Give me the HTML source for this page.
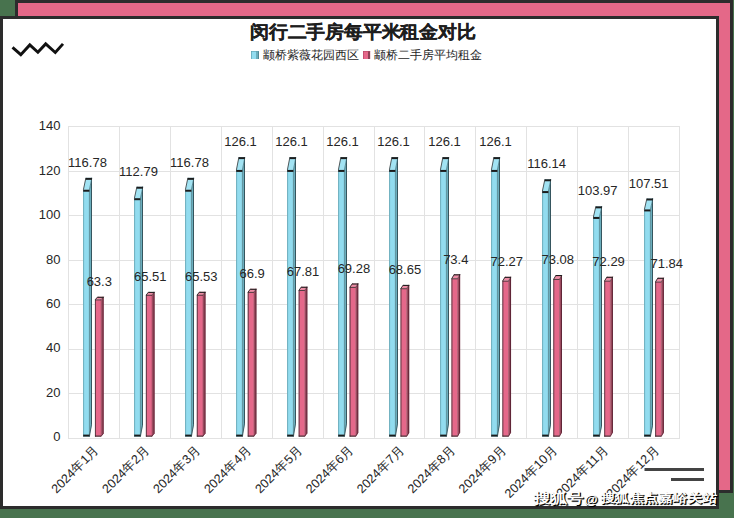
<!DOCTYPE html>
<html><head><meta charset="utf-8">
<style>
html,body{margin:0;padding:0;}
body{width:734px;height:518px;overflow:hidden;background:#48734e;position:relative;font-family:"Liberation Sans",sans-serif;}
.pink{position:absolute;left:15px;top:0px;width:718px;height:493px;box-sizing:border-box;background:#e46888;border:3px solid #2c2c2c;}
.panel{position:absolute;left:0px;top:16px;width:719px;height:493px;box-sizing:border-box;background:#fff;border:3px solid #2c2c2c;}
svg{position:absolute;left:0;top:0;}
.ax text{font-family:"Liberation Sans",sans-serif;font-size:13px;fill:#262626;}
.title{position:absolute;left:250px;top:20px;font-size:18.7px;font-weight:bold;color:#1e1e1e;white-space:nowrap;letter-spacing:-0.2px;-webkit-text-stroke:0.25px #1e1e1e;transform:scaleY(0.95);transform-origin:0 0;}
.legend{position:absolute;left:251px;top:46px;font-size:12px;color:#333;white-space:nowrap;}
.wm{position:absolute;font-weight:bold;color:#fff;white-space:nowrap;text-shadow:1px 1px 0 #000,1px 1px 1px #000;transform-origin:0 0;}
</style></head><body>
<div class="pink"></div>
<div class="panel"></div>
<div class="title">闵行二手房每平米租金对比</div>
<svg width="734" height="518" viewBox="0 0 734 518">
<polyline points="12.5,47.4 20.8,54.7 29.8,44.9 37.9,52.3 45.7,43.9 55.3,52.5 63,43.9" fill="none" stroke="#111" stroke-width="2.9"/>
<g>
<rect x="251" y="51" width="8" height="8" fill="#92dcef"/><rect x="251" y="51" width="1" height="8" fill="#6fb3c4"/><rect x="256" y="51" width="3" height="8" fill="#6aaebd"/><rect x="258.2" y="51" width="0.8" height="8" fill="#4d7f8a"/><rect x="251" y="51" width="8" height="0.6" fill="#5f9fae"/>
<rect x="363" y="51" width="7.1" height="8" fill="#e5688a"/><rect x="363" y="51" width="1" height="8" fill="#c85072"/><rect x="368" y="51" width="2.1" height="8" fill="#8e4156"/><rect x="363" y="51" width="7.1" height="0.6" fill="#b24a66"/>
</g>
<text x="262.5" y="59" font-family="Liberation Sans, sans-serif" font-size="12" fill="#262626">颛桥紫薇花园西区</text>
<text x="374" y="59" font-family="Liberation Sans, sans-serif" font-size="12" fill="#262626">颛桥二手房平均租金</text>
<g stroke="#e2e2e2" stroke-width="1" fill="none"><line x1="68" y1="438.5" x2="680" y2="438.5"/><line x1="68" y1="393.5" x2="680" y2="393.5"/><line x1="68" y1="349.5" x2="680" y2="349.5"/><line x1="68" y1="304.5" x2="680" y2="304.5"/><line x1="68" y1="260.5" x2="680" y2="260.5"/><line x1="68" y1="215.5" x2="680" y2="215.5"/><line x1="68" y1="171.5" x2="680" y2="171.5"/><line x1="68" y1="126.5" x2="680" y2="126.5"/><line x1="68.5" y1="126.5" x2="68.5" y2="438.5"/><line x1="119.5" y1="126.5" x2="119.5" y2="438.5"/><line x1="170.5" y1="126.5" x2="170.5" y2="438.5"/><line x1="221.5" y1="126.5" x2="221.5" y2="438.5"/><line x1="272.5" y1="126.5" x2="272.5" y2="438.5"/><line x1="323.5" y1="126.5" x2="323.5" y2="438.5"/><line x1="374.5" y1="126.5" x2="374.5" y2="438.5"/><line x1="424.5" y1="126.5" x2="424.5" y2="438.5"/><line x1="475.5" y1="126.5" x2="475.5" y2="438.5"/><line x1="526.5" y1="126.5" x2="526.5" y2="438.5"/><line x1="577.5" y1="126.5" x2="577.5" y2="438.5"/><line x1="628.5" y1="126.5" x2="628.5" y2="438.5"/><line x1="679.5" y1="126.5" x2="679.5" y2="438.5"/></g>
<g class="ax"><text x="60.5" y="441.4" text-anchor="end">0</text><text x="60.5" y="396.9" text-anchor="end">20</text><text x="60.5" y="352.4" text-anchor="end">40</text><text x="60.5" y="307.9" text-anchor="end">60</text><text x="60.5" y="263.5" text-anchor="end">80</text><text x="60.5" y="219.0" text-anchor="end">100</text><text x="60.5" y="174.5" text-anchor="end">120</text><text x="60.5" y="130.0" text-anchor="end">140</text></g>
<polygon points="89.40,189.72 91.90,177.85 91.90,424.73 89.40,436.60" fill="#6aaebd"/><rect x="83.20" y="189.72" width="6.20" height="246.88" fill="#92dcef"/><polygon points="83.20,189.72 89.40,189.72 91.90,177.85 85.70,177.85" fill="#a2e3f3"/><line x1="83.60" y1="189.72" x2="83.60" y2="436.60" stroke="#5f9fae" stroke-width="0.8"/><line x1="89.40" y1="189.72" x2="89.40" y2="436.60" stroke="#4d7f8a" stroke-width="0.8"/><line x1="91.50" y1="177.85" x2="91.50" y2="424.73" stroke="#2e4a52" stroke-width="0.9"/><line x1="89.40" y1="436.60" x2="91.50" y2="424.73" stroke="#2e4a52" stroke-width="0.8"/><line x1="83.40" y1="189.72" x2="85.90" y2="177.85" stroke="#333" stroke-width="0.8"/><line x1="89.40" y1="189.72" x2="91.90" y2="177.85" stroke="#3d6a75" stroke-width="0.7"/><rect x="85.70" y="177.85" width="6.20" height="2.0" fill="#1c1c1c"/><rect x="83.20" y="189.72" width="6.20" height="2.0" fill="#1c1c1c"/><rect x="83.20" y="434.60" width="6.20" height="2.0" fill="#1c1c1c"/><polygon points="101.10,299.60 103.60,296.80 103.60,433.80 101.10,436.60" fill="#9e4b60"/><rect x="95.00" y="299.60" width="6.10" height="137.00" fill="#e5688a"/><polygon points="95.00,299.60 101.10,299.60 103.60,296.80 97.50,296.80" fill="#ee8ca5"/><line x1="95.40" y1="299.60" x2="95.40" y2="436.60" stroke="#3a2a30" stroke-width="0.8"/><line x1="101.10" y1="299.60" x2="101.10" y2="436.60" stroke="#8a4055" stroke-width="0.5"/><line x1="103.10" y1="296.80" x2="103.10" y2="433.80" stroke="#5e2536" stroke-width="1.0"/><line x1="101.10" y1="436.20" x2="103.10" y2="433.80" stroke="#5e2536" stroke-width="0.8"/><line x1="95.30" y1="299.60" x2="97.80" y2="296.80" stroke="#2a2a2a" stroke-width="0.9"/><line x1="97.50" y1="297.30" x2="103.60" y2="297.30" stroke="#1c1c1c" stroke-width="1.1"/><line x1="95.00" y1="299.90" x2="101.10" y2="299.90" stroke="#2a2a2a" stroke-width="0.8"/><line x1="101.10" y1="299.60" x2="103.60" y2="296.80" stroke="#2a2a2a" stroke-width="0.6"/><line x1="95.00" y1="436.10" x2="101.10" y2="436.10" stroke="#2a2a2a" stroke-width="1.0"/><polygon points="140.40,198.20 142.90,186.72 142.90,425.12 140.40,436.60" fill="#6aaebd"/><rect x="134.20" y="198.20" width="6.20" height="238.40" fill="#92dcef"/><polygon points="134.20,198.20 140.40,198.20 142.90,186.72 136.70,186.72" fill="#a2e3f3"/><line x1="134.60" y1="198.20" x2="134.60" y2="436.60" stroke="#5f9fae" stroke-width="0.8"/><line x1="140.40" y1="198.20" x2="140.40" y2="436.60" stroke="#4d7f8a" stroke-width="0.8"/><line x1="142.50" y1="186.72" x2="142.50" y2="425.12" stroke="#2e4a52" stroke-width="0.9"/><line x1="140.40" y1="436.60" x2="142.50" y2="425.12" stroke="#2e4a52" stroke-width="0.8"/><line x1="134.40" y1="198.20" x2="136.90" y2="186.72" stroke="#333" stroke-width="0.8"/><line x1="140.40" y1="198.20" x2="142.90" y2="186.72" stroke="#3d6a75" stroke-width="0.7"/><rect x="136.70" y="186.72" width="6.20" height="2.0" fill="#1c1c1c"/><rect x="134.20" y="198.20" width="6.20" height="2.0" fill="#1c1c1c"/><rect x="134.20" y="434.60" width="6.20" height="2.0" fill="#1c1c1c"/><polygon points="152.03,294.98 154.53,291.89 154.53,433.50 152.03,436.60" fill="#9e4b60"/><rect x="145.93" y="294.98" width="6.10" height="141.62" fill="#e5688a"/><polygon points="145.93,294.98 152.03,294.98 154.53,291.89 148.43,291.89" fill="#ee8ca5"/><line x1="146.33" y1="294.98" x2="146.33" y2="436.60" stroke="#3a2a30" stroke-width="0.8"/><line x1="152.03" y1="294.98" x2="152.03" y2="436.60" stroke="#8a4055" stroke-width="0.5"/><line x1="154.03" y1="291.89" x2="154.03" y2="433.50" stroke="#5e2536" stroke-width="1.0"/><line x1="152.03" y1="436.20" x2="154.03" y2="433.50" stroke="#5e2536" stroke-width="0.8"/><line x1="146.23" y1="294.98" x2="148.73" y2="291.89" stroke="#2a2a2a" stroke-width="0.9"/><line x1="148.43" y1="292.39" x2="154.53" y2="292.39" stroke="#1c1c1c" stroke-width="1.1"/><line x1="145.93" y1="295.28" x2="152.03" y2="295.28" stroke="#2a2a2a" stroke-width="0.8"/><line x1="152.03" y1="294.98" x2="154.53" y2="291.89" stroke="#2a2a2a" stroke-width="0.6"/><line x1="145.93" y1="436.10" x2="152.03" y2="436.10" stroke="#2a2a2a" stroke-width="1.0"/><polygon points="191.40,189.72 193.90,177.85 193.90,424.73 191.40,436.60" fill="#6aaebd"/><rect x="185.20" y="189.72" width="6.20" height="246.88" fill="#92dcef"/><polygon points="185.20,189.72 191.40,189.72 193.90,177.85 187.70,177.85" fill="#a2e3f3"/><line x1="185.60" y1="189.72" x2="185.60" y2="436.60" stroke="#5f9fae" stroke-width="0.8"/><line x1="191.40" y1="189.72" x2="191.40" y2="436.60" stroke="#4d7f8a" stroke-width="0.8"/><line x1="193.50" y1="177.85" x2="193.50" y2="424.73" stroke="#2e4a52" stroke-width="0.9"/><line x1="191.40" y1="436.60" x2="193.50" y2="424.73" stroke="#2e4a52" stroke-width="0.8"/><line x1="185.40" y1="189.72" x2="187.90" y2="177.85" stroke="#333" stroke-width="0.8"/><line x1="191.40" y1="189.72" x2="193.90" y2="177.85" stroke="#3d6a75" stroke-width="0.7"/><rect x="187.70" y="177.85" width="6.20" height="2.0" fill="#1c1c1c"/><rect x="185.20" y="189.72" width="6.20" height="2.0" fill="#1c1c1c"/><rect x="185.20" y="434.60" width="6.20" height="2.0" fill="#1c1c1c"/><polygon points="202.96,294.94 205.46,291.84 205.46,433.50 202.96,436.60" fill="#9e4b60"/><rect x="196.86" y="294.94" width="6.10" height="141.66" fill="#e5688a"/><polygon points="196.86,294.94 202.96,294.94 205.46,291.84 199.36,291.84" fill="#ee8ca5"/><line x1="197.26" y1="294.94" x2="197.26" y2="436.60" stroke="#3a2a30" stroke-width="0.8"/><line x1="202.96" y1="294.94" x2="202.96" y2="436.60" stroke="#8a4055" stroke-width="0.5"/><line x1="204.96" y1="291.84" x2="204.96" y2="433.50" stroke="#5e2536" stroke-width="1.0"/><line x1="202.96" y1="436.20" x2="204.96" y2="433.50" stroke="#5e2536" stroke-width="0.8"/><line x1="197.16" y1="294.94" x2="199.66" y2="291.84" stroke="#2a2a2a" stroke-width="0.9"/><line x1="199.36" y1="292.34" x2="205.46" y2="292.34" stroke="#1c1c1c" stroke-width="1.1"/><line x1="196.86" y1="295.24" x2="202.96" y2="295.24" stroke="#2a2a2a" stroke-width="0.8"/><line x1="202.96" y1="294.94" x2="205.46" y2="291.84" stroke="#2a2a2a" stroke-width="0.6"/><line x1="196.86" y1="436.10" x2="202.96" y2="436.10" stroke="#2a2a2a" stroke-width="1.0"/><polygon points="242.40,169.92 244.90,157.12 244.90,423.80 242.40,436.60" fill="#6aaebd"/><rect x="236.20" y="169.92" width="6.20" height="266.68" fill="#92dcef"/><polygon points="236.20,169.92 242.40,169.92 244.90,157.12 238.70,157.12" fill="#a2e3f3"/><line x1="236.60" y1="169.92" x2="236.60" y2="436.60" stroke="#5f9fae" stroke-width="0.8"/><line x1="242.40" y1="169.92" x2="242.40" y2="436.60" stroke="#4d7f8a" stroke-width="0.8"/><line x1="244.50" y1="157.12" x2="244.50" y2="423.80" stroke="#2e4a52" stroke-width="0.9"/><line x1="242.40" y1="436.60" x2="244.50" y2="423.80" stroke="#2e4a52" stroke-width="0.8"/><line x1="236.40" y1="169.92" x2="238.90" y2="157.12" stroke="#333" stroke-width="0.8"/><line x1="242.40" y1="169.92" x2="244.90" y2="157.12" stroke="#3d6a75" stroke-width="0.7"/><rect x="238.70" y="157.12" width="6.20" height="2.0" fill="#1c1c1c"/><rect x="236.20" y="169.92" width="6.20" height="2.0" fill="#1c1c1c"/><rect x="236.20" y="434.60" width="6.20" height="2.0" fill="#1c1c1c"/><polygon points="253.89,292.08 256.39,288.80 256.39,433.32 253.89,436.60" fill="#9e4b60"/><rect x="247.79" y="292.08" width="6.10" height="144.52" fill="#e5688a"/><polygon points="247.79,292.08 253.89,292.08 256.39,288.80 250.29,288.80" fill="#ee8ca5"/><line x1="248.19" y1="292.08" x2="248.19" y2="436.60" stroke="#3a2a30" stroke-width="0.8"/><line x1="253.89" y1="292.08" x2="253.89" y2="436.60" stroke="#8a4055" stroke-width="0.5"/><line x1="255.89" y1="288.80" x2="255.89" y2="433.32" stroke="#5e2536" stroke-width="1.0"/><line x1="253.89" y1="436.20" x2="255.89" y2="433.32" stroke="#5e2536" stroke-width="0.8"/><line x1="248.09" y1="292.08" x2="250.59" y2="288.80" stroke="#2a2a2a" stroke-width="0.9"/><line x1="250.29" y1="289.30" x2="256.39" y2="289.30" stroke="#1c1c1c" stroke-width="1.1"/><line x1="247.79" y1="292.38" x2="253.89" y2="292.38" stroke="#2a2a2a" stroke-width="0.8"/><line x1="253.89" y1="292.08" x2="256.39" y2="288.80" stroke="#2a2a2a" stroke-width="0.6"/><line x1="247.79" y1="436.10" x2="253.89" y2="436.10" stroke="#2a2a2a" stroke-width="1.0"/><polygon points="293.40,169.92 295.90,157.12 295.90,423.80 293.40,436.60" fill="#6aaebd"/><rect x="287.20" y="169.92" width="6.20" height="266.68" fill="#92dcef"/><polygon points="287.20,169.92 293.40,169.92 295.90,157.12 289.70,157.12" fill="#a2e3f3"/><line x1="287.60" y1="169.92" x2="287.60" y2="436.60" stroke="#5f9fae" stroke-width="0.8"/><line x1="293.40" y1="169.92" x2="293.40" y2="436.60" stroke="#4d7f8a" stroke-width="0.8"/><line x1="295.50" y1="157.12" x2="295.50" y2="423.80" stroke="#2e4a52" stroke-width="0.9"/><line x1="293.40" y1="436.60" x2="295.50" y2="423.80" stroke="#2e4a52" stroke-width="0.8"/><line x1="287.40" y1="169.92" x2="289.90" y2="157.12" stroke="#333" stroke-width="0.8"/><line x1="293.40" y1="169.92" x2="295.90" y2="157.12" stroke="#3d6a75" stroke-width="0.7"/><rect x="289.70" y="157.12" width="6.20" height="2.0" fill="#1c1c1c"/><rect x="287.20" y="169.92" width="6.20" height="2.0" fill="#1c1c1c"/><rect x="287.20" y="434.60" width="6.20" height="2.0" fill="#1c1c1c"/><polygon points="304.82,290.18 307.32,286.77 307.32,433.20 304.82,436.60" fill="#9e4b60"/><rect x="298.72" y="290.18" width="6.10" height="146.42" fill="#e5688a"/><polygon points="298.72,290.18 304.82,290.18 307.32,286.77 301.22,286.77" fill="#ee8ca5"/><line x1="299.12" y1="290.18" x2="299.12" y2="436.60" stroke="#3a2a30" stroke-width="0.8"/><line x1="304.82" y1="290.18" x2="304.82" y2="436.60" stroke="#8a4055" stroke-width="0.5"/><line x1="306.82" y1="286.77" x2="306.82" y2="433.20" stroke="#5e2536" stroke-width="1.0"/><line x1="304.82" y1="436.20" x2="306.82" y2="433.20" stroke="#5e2536" stroke-width="0.8"/><line x1="299.02" y1="290.18" x2="301.52" y2="286.77" stroke="#2a2a2a" stroke-width="0.9"/><line x1="301.22" y1="287.27" x2="307.32" y2="287.27" stroke="#1c1c1c" stroke-width="1.1"/><line x1="298.72" y1="290.48" x2="304.82" y2="290.48" stroke="#2a2a2a" stroke-width="0.8"/><line x1="304.82" y1="290.18" x2="307.32" y2="286.77" stroke="#2a2a2a" stroke-width="0.6"/><line x1="298.72" y1="436.10" x2="304.82" y2="436.10" stroke="#2a2a2a" stroke-width="1.0"/><polygon points="344.40,169.92 346.90,157.12 346.90,423.80 344.40,436.60" fill="#6aaebd"/><rect x="338.20" y="169.92" width="6.20" height="266.68" fill="#92dcef"/><polygon points="338.20,169.92 344.40,169.92 346.90,157.12 340.70,157.12" fill="#a2e3f3"/><line x1="338.60" y1="169.92" x2="338.60" y2="436.60" stroke="#5f9fae" stroke-width="0.8"/><line x1="344.40" y1="169.92" x2="344.40" y2="436.60" stroke="#4d7f8a" stroke-width="0.8"/><line x1="346.50" y1="157.12" x2="346.50" y2="423.80" stroke="#2e4a52" stroke-width="0.9"/><line x1="344.40" y1="436.60" x2="346.50" y2="423.80" stroke="#2e4a52" stroke-width="0.8"/><line x1="338.40" y1="169.92" x2="340.90" y2="157.12" stroke="#333" stroke-width="0.8"/><line x1="344.40" y1="169.92" x2="346.90" y2="157.12" stroke="#3d6a75" stroke-width="0.7"/><rect x="340.70" y="157.12" width="6.20" height="2.0" fill="#1c1c1c"/><rect x="338.20" y="169.92" width="6.20" height="2.0" fill="#1c1c1c"/><rect x="338.20" y="434.60" width="6.20" height="2.0" fill="#1c1c1c"/><polygon points="355.75,287.10 358.25,283.50 358.25,433.00 355.75,436.60" fill="#9e4b60"/><rect x="349.65" y="287.10" width="6.10" height="149.50" fill="#e5688a"/><polygon points="349.65,287.10 355.75,287.10 358.25,283.50 352.15,283.50" fill="#ee8ca5"/><line x1="350.05" y1="287.10" x2="350.05" y2="436.60" stroke="#3a2a30" stroke-width="0.8"/><line x1="355.75" y1="287.10" x2="355.75" y2="436.60" stroke="#8a4055" stroke-width="0.5"/><line x1="357.75" y1="283.50" x2="357.75" y2="433.00" stroke="#5e2536" stroke-width="1.0"/><line x1="355.75" y1="436.20" x2="357.75" y2="433.00" stroke="#5e2536" stroke-width="0.8"/><line x1="349.95" y1="287.10" x2="352.45" y2="283.50" stroke="#2a2a2a" stroke-width="0.9"/><line x1="352.15" y1="284.00" x2="358.25" y2="284.00" stroke="#1c1c1c" stroke-width="1.1"/><line x1="349.65" y1="287.40" x2="355.75" y2="287.40" stroke="#2a2a2a" stroke-width="0.8"/><line x1="355.75" y1="287.10" x2="358.25" y2="283.50" stroke="#2a2a2a" stroke-width="0.6"/><line x1="349.65" y1="436.10" x2="355.75" y2="436.10" stroke="#2a2a2a" stroke-width="1.0"/><polygon points="395.40,169.92 397.90,157.12 397.90,423.80 395.40,436.60" fill="#6aaebd"/><rect x="389.20" y="169.92" width="6.20" height="266.68" fill="#92dcef"/><polygon points="389.20,169.92 395.40,169.92 397.90,157.12 391.70,157.12" fill="#a2e3f3"/><line x1="389.60" y1="169.92" x2="389.60" y2="436.60" stroke="#5f9fae" stroke-width="0.8"/><line x1="395.40" y1="169.92" x2="395.40" y2="436.60" stroke="#4d7f8a" stroke-width="0.8"/><line x1="397.50" y1="157.12" x2="397.50" y2="423.80" stroke="#2e4a52" stroke-width="0.9"/><line x1="395.40" y1="436.60" x2="397.50" y2="423.80" stroke="#2e4a52" stroke-width="0.8"/><line x1="389.40" y1="169.92" x2="391.90" y2="157.12" stroke="#333" stroke-width="0.8"/><line x1="395.40" y1="169.92" x2="397.90" y2="157.12" stroke="#3d6a75" stroke-width="0.7"/><rect x="391.70" y="157.12" width="6.20" height="2.0" fill="#1c1c1c"/><rect x="389.20" y="169.92" width="6.20" height="2.0" fill="#1c1c1c"/><rect x="389.20" y="434.60" width="6.20" height="2.0" fill="#1c1c1c"/><polygon points="406.68,288.42 409.18,284.90 409.18,433.08 406.68,436.60" fill="#9e4b60"/><rect x="400.58" y="288.42" width="6.10" height="148.18" fill="#e5688a"/><polygon points="400.58,288.42 406.68,288.42 409.18,284.90 403.08,284.90" fill="#ee8ca5"/><line x1="400.98" y1="288.42" x2="400.98" y2="436.60" stroke="#3a2a30" stroke-width="0.8"/><line x1="406.68" y1="288.42" x2="406.68" y2="436.60" stroke="#8a4055" stroke-width="0.5"/><line x1="408.68" y1="284.90" x2="408.68" y2="433.08" stroke="#5e2536" stroke-width="1.0"/><line x1="406.68" y1="436.20" x2="408.68" y2="433.08" stroke="#5e2536" stroke-width="0.8"/><line x1="400.88" y1="288.42" x2="403.38" y2="284.90" stroke="#2a2a2a" stroke-width="0.9"/><line x1="403.08" y1="285.40" x2="409.18" y2="285.40" stroke="#1c1c1c" stroke-width="1.1"/><line x1="400.58" y1="288.72" x2="406.68" y2="288.72" stroke="#2a2a2a" stroke-width="0.8"/><line x1="406.68" y1="288.42" x2="409.18" y2="284.90" stroke="#2a2a2a" stroke-width="0.6"/><line x1="400.58" y1="436.10" x2="406.68" y2="436.10" stroke="#2a2a2a" stroke-width="1.0"/><polygon points="446.40,169.92 448.90,157.12 448.90,423.80 446.40,436.60" fill="#6aaebd"/><rect x="440.20" y="169.92" width="6.20" height="266.68" fill="#92dcef"/><polygon points="440.20,169.92 446.40,169.92 448.90,157.12 442.70,157.12" fill="#a2e3f3"/><line x1="440.60" y1="169.92" x2="440.60" y2="436.60" stroke="#5f9fae" stroke-width="0.8"/><line x1="446.40" y1="169.92" x2="446.40" y2="436.60" stroke="#4d7f8a" stroke-width="0.8"/><line x1="448.50" y1="157.12" x2="448.50" y2="423.80" stroke="#2e4a52" stroke-width="0.9"/><line x1="446.40" y1="436.60" x2="448.50" y2="423.80" stroke="#2e4a52" stroke-width="0.8"/><line x1="440.40" y1="169.92" x2="442.90" y2="157.12" stroke="#333" stroke-width="0.8"/><line x1="446.40" y1="169.92" x2="448.90" y2="157.12" stroke="#3d6a75" stroke-width="0.7"/><rect x="442.70" y="157.12" width="6.20" height="2.0" fill="#1c1c1c"/><rect x="440.20" y="169.92" width="6.20" height="2.0" fill="#1c1c1c"/><rect x="440.20" y="434.60" width="6.20" height="2.0" fill="#1c1c1c"/><polygon points="457.61,278.49 460.11,274.34 460.11,432.45 457.61,436.60" fill="#9e4b60"/><rect x="451.51" y="278.49" width="6.10" height="158.11" fill="#e5688a"/><polygon points="451.51,278.49 457.61,278.49 460.11,274.34 454.01,274.34" fill="#ee8ca5"/><line x1="451.91" y1="278.49" x2="451.91" y2="436.60" stroke="#3a2a30" stroke-width="0.8"/><line x1="457.61" y1="278.49" x2="457.61" y2="436.60" stroke="#8a4055" stroke-width="0.5"/><line x1="459.61" y1="274.34" x2="459.61" y2="432.45" stroke="#5e2536" stroke-width="1.0"/><line x1="457.61" y1="436.20" x2="459.61" y2="432.45" stroke="#5e2536" stroke-width="0.8"/><line x1="451.81" y1="278.49" x2="454.31" y2="274.34" stroke="#2a2a2a" stroke-width="0.9"/><line x1="454.01" y1="274.84" x2="460.11" y2="274.84" stroke="#1c1c1c" stroke-width="1.1"/><line x1="451.51" y1="278.79" x2="457.61" y2="278.79" stroke="#2a2a2a" stroke-width="0.8"/><line x1="457.61" y1="278.49" x2="460.11" y2="274.34" stroke="#2a2a2a" stroke-width="0.6"/><line x1="451.51" y1="436.10" x2="457.61" y2="436.10" stroke="#2a2a2a" stroke-width="1.0"/><polygon points="497.40,169.92 499.90,157.12 499.90,423.80 497.40,436.60" fill="#6aaebd"/><rect x="491.20" y="169.92" width="6.20" height="266.68" fill="#92dcef"/><polygon points="491.20,169.92 497.40,169.92 499.90,157.12 493.70,157.12" fill="#a2e3f3"/><line x1="491.60" y1="169.92" x2="491.60" y2="436.60" stroke="#5f9fae" stroke-width="0.8"/><line x1="497.40" y1="169.92" x2="497.40" y2="436.60" stroke="#4d7f8a" stroke-width="0.8"/><line x1="499.50" y1="157.12" x2="499.50" y2="423.80" stroke="#2e4a52" stroke-width="0.9"/><line x1="497.40" y1="436.60" x2="499.50" y2="423.80" stroke="#2e4a52" stroke-width="0.8"/><line x1="491.40" y1="169.92" x2="493.90" y2="157.12" stroke="#333" stroke-width="0.8"/><line x1="497.40" y1="169.92" x2="499.90" y2="157.12" stroke="#3d6a75" stroke-width="0.7"/><rect x="493.70" y="157.12" width="6.20" height="2.0" fill="#1c1c1c"/><rect x="491.20" y="169.92" width="6.20" height="2.0" fill="#1c1c1c"/><rect x="491.20" y="434.60" width="6.20" height="2.0" fill="#1c1c1c"/><polygon points="508.54,280.85 511.04,276.85 511.04,432.60 508.54,436.60" fill="#9e4b60"/><rect x="502.44" y="280.85" width="6.10" height="155.75" fill="#e5688a"/><polygon points="502.44,280.85 508.54,280.85 511.04,276.85 504.94,276.85" fill="#ee8ca5"/><line x1="502.84" y1="280.85" x2="502.84" y2="436.60" stroke="#3a2a30" stroke-width="0.8"/><line x1="508.54" y1="280.85" x2="508.54" y2="436.60" stroke="#8a4055" stroke-width="0.5"/><line x1="510.54" y1="276.85" x2="510.54" y2="432.60" stroke="#5e2536" stroke-width="1.0"/><line x1="508.54" y1="436.20" x2="510.54" y2="432.60" stroke="#5e2536" stroke-width="0.8"/><line x1="502.74" y1="280.85" x2="505.24" y2="276.85" stroke="#2a2a2a" stroke-width="0.9"/><line x1="504.94" y1="277.35" x2="511.04" y2="277.35" stroke="#1c1c1c" stroke-width="1.1"/><line x1="502.44" y1="281.15" x2="508.54" y2="281.15" stroke="#2a2a2a" stroke-width="0.8"/><line x1="508.54" y1="280.85" x2="511.04" y2="276.85" stroke="#2a2a2a" stroke-width="0.6"/><line x1="502.44" y1="436.10" x2="508.54" y2="436.10" stroke="#2a2a2a" stroke-width="1.0"/><polygon points="548.40,191.08 550.90,179.27 550.90,424.79 548.40,436.60" fill="#6aaebd"/><rect x="542.20" y="191.08" width="6.20" height="245.52" fill="#92dcef"/><polygon points="542.20,191.08 548.40,191.08 550.90,179.27 544.70,179.27" fill="#a2e3f3"/><line x1="542.60" y1="191.08" x2="542.60" y2="436.60" stroke="#5f9fae" stroke-width="0.8"/><line x1="548.40" y1="191.08" x2="548.40" y2="436.60" stroke="#4d7f8a" stroke-width="0.8"/><line x1="550.50" y1="179.27" x2="550.50" y2="424.79" stroke="#2e4a52" stroke-width="0.9"/><line x1="548.40" y1="436.60" x2="550.50" y2="424.79" stroke="#2e4a52" stroke-width="0.8"/><line x1="542.40" y1="191.08" x2="544.90" y2="179.27" stroke="#333" stroke-width="0.8"/><line x1="548.40" y1="191.08" x2="550.90" y2="179.27" stroke="#3d6a75" stroke-width="0.7"/><rect x="544.70" y="179.27" width="6.20" height="2.0" fill="#1c1c1c"/><rect x="542.20" y="191.08" width="6.20" height="2.0" fill="#1c1c1c"/><rect x="542.20" y="434.60" width="6.20" height="2.0" fill="#1c1c1c"/><polygon points="559.47,279.16 561.97,275.05 561.97,432.49 559.47,436.60" fill="#9e4b60"/><rect x="553.37" y="279.16" width="6.10" height="157.44" fill="#e5688a"/><polygon points="553.37,279.16 559.47,279.16 561.97,275.05 555.87,275.05" fill="#ee8ca5"/><line x1="553.77" y1="279.16" x2="553.77" y2="436.60" stroke="#3a2a30" stroke-width="0.8"/><line x1="559.47" y1="279.16" x2="559.47" y2="436.60" stroke="#8a4055" stroke-width="0.5"/><line x1="561.47" y1="275.05" x2="561.47" y2="432.49" stroke="#5e2536" stroke-width="1.0"/><line x1="559.47" y1="436.20" x2="561.47" y2="432.49" stroke="#5e2536" stroke-width="0.8"/><line x1="553.67" y1="279.16" x2="556.17" y2="275.05" stroke="#2a2a2a" stroke-width="0.9"/><line x1="555.87" y1="275.55" x2="561.97" y2="275.55" stroke="#1c1c1c" stroke-width="1.1"/><line x1="553.37" y1="279.46" x2="559.47" y2="279.46" stroke="#2a2a2a" stroke-width="0.8"/><line x1="559.47" y1="279.16" x2="561.97" y2="275.05" stroke="#2a2a2a" stroke-width="0.6"/><line x1="553.37" y1="436.10" x2="559.47" y2="436.10" stroke="#2a2a2a" stroke-width="1.0"/><polygon points="599.40,216.94 601.90,206.34 601.90,426.00 599.40,436.60" fill="#6aaebd"/><rect x="593.20" y="216.94" width="6.20" height="219.66" fill="#92dcef"/><polygon points="593.20,216.94 599.40,216.94 601.90,206.34 595.70,206.34" fill="#a2e3f3"/><line x1="593.60" y1="216.94" x2="593.60" y2="436.60" stroke="#5f9fae" stroke-width="0.8"/><line x1="599.40" y1="216.94" x2="599.40" y2="436.60" stroke="#4d7f8a" stroke-width="0.8"/><line x1="601.50" y1="206.34" x2="601.50" y2="426.00" stroke="#2e4a52" stroke-width="0.9"/><line x1="599.40" y1="436.60" x2="601.50" y2="426.00" stroke="#2e4a52" stroke-width="0.8"/><line x1="593.40" y1="216.94" x2="595.90" y2="206.34" stroke="#333" stroke-width="0.8"/><line x1="599.40" y1="216.94" x2="601.90" y2="206.34" stroke="#3d6a75" stroke-width="0.7"/><rect x="595.70" y="206.34" width="6.20" height="2.0" fill="#1c1c1c"/><rect x="593.20" y="216.94" width="6.20" height="2.0" fill="#1c1c1c"/><rect x="593.20" y="434.60" width="6.20" height="2.0" fill="#1c1c1c"/><polygon points="610.40,280.81 612.90,276.81 612.90,432.60 610.40,436.60" fill="#9e4b60"/><rect x="604.30" y="280.81" width="6.10" height="155.79" fill="#e5688a"/><polygon points="604.30,280.81 610.40,280.81 612.90,276.81 606.80,276.81" fill="#ee8ca5"/><line x1="604.70" y1="280.81" x2="604.70" y2="436.60" stroke="#3a2a30" stroke-width="0.8"/><line x1="610.40" y1="280.81" x2="610.40" y2="436.60" stroke="#8a4055" stroke-width="0.5"/><line x1="612.40" y1="276.81" x2="612.40" y2="432.60" stroke="#5e2536" stroke-width="1.0"/><line x1="610.40" y1="436.20" x2="612.40" y2="432.60" stroke="#5e2536" stroke-width="0.8"/><line x1="604.60" y1="280.81" x2="607.10" y2="276.81" stroke="#2a2a2a" stroke-width="0.9"/><line x1="606.80" y1="277.31" x2="612.90" y2="277.31" stroke="#1c1c1c" stroke-width="1.1"/><line x1="604.30" y1="281.11" x2="610.40" y2="281.11" stroke="#2a2a2a" stroke-width="0.8"/><line x1="610.40" y1="280.81" x2="612.90" y2="276.81" stroke="#2a2a2a" stroke-width="0.6"/><line x1="604.30" y1="436.10" x2="610.40" y2="436.10" stroke="#2a2a2a" stroke-width="1.0"/><polygon points="650.40,209.42 652.90,198.47 652.90,425.65 650.40,436.60" fill="#6aaebd"/><rect x="644.20" y="209.42" width="6.20" height="227.18" fill="#92dcef"/><polygon points="644.20,209.42 650.40,209.42 652.90,198.47 646.70,198.47" fill="#a2e3f3"/><line x1="644.60" y1="209.42" x2="644.60" y2="436.60" stroke="#5f9fae" stroke-width="0.8"/><line x1="650.40" y1="209.42" x2="650.40" y2="436.60" stroke="#4d7f8a" stroke-width="0.8"/><line x1="652.50" y1="198.47" x2="652.50" y2="425.65" stroke="#2e4a52" stroke-width="0.9"/><line x1="650.40" y1="436.60" x2="652.50" y2="425.65" stroke="#2e4a52" stroke-width="0.8"/><line x1="644.40" y1="209.42" x2="646.90" y2="198.47" stroke="#333" stroke-width="0.8"/><line x1="650.40" y1="209.42" x2="652.90" y2="198.47" stroke="#3d6a75" stroke-width="0.7"/><rect x="646.70" y="198.47" width="6.20" height="2.0" fill="#1c1c1c"/><rect x="644.20" y="209.42" width="6.20" height="2.0" fill="#1c1c1c"/><rect x="644.20" y="434.60" width="6.20" height="2.0" fill="#1c1c1c"/><polygon points="661.33,281.75 663.83,277.81 663.83,432.66 661.33,436.60" fill="#9e4b60"/><rect x="655.23" y="281.75" width="6.10" height="154.85" fill="#e5688a"/><polygon points="655.23,281.75 661.33,281.75 663.83,277.81 657.73,277.81" fill="#ee8ca5"/><line x1="655.63" y1="281.75" x2="655.63" y2="436.60" stroke="#3a2a30" stroke-width="0.8"/><line x1="661.33" y1="281.75" x2="661.33" y2="436.60" stroke="#8a4055" stroke-width="0.5"/><line x1="663.33" y1="277.81" x2="663.33" y2="432.66" stroke="#5e2536" stroke-width="1.0"/><line x1="661.33" y1="436.20" x2="663.33" y2="432.66" stroke="#5e2536" stroke-width="0.8"/><line x1="655.53" y1="281.75" x2="658.03" y2="277.81" stroke="#2a2a2a" stroke-width="0.9"/><line x1="657.73" y1="278.31" x2="663.83" y2="278.31" stroke="#1c1c1c" stroke-width="1.1"/><line x1="655.23" y1="282.05" x2="661.33" y2="282.05" stroke="#2a2a2a" stroke-width="0.8"/><line x1="661.33" y1="281.75" x2="663.83" y2="277.81" stroke="#2a2a2a" stroke-width="0.6"/><line x1="655.23" y1="436.10" x2="661.33" y2="436.10" stroke="#2a2a2a" stroke-width="1.0"/>
<g class="ax"><text x="87.5" y="166.8" text-anchor="middle">116.78</text><text x="99.3" y="286.0" text-anchor="middle">63.3</text><text x="138.5" y="175.7" text-anchor="middle">112.79</text><text x="150.2" y="281.1" text-anchor="middle">65.51</text><text x="189.5" y="166.8" text-anchor="middle">116.78</text><text x="201.2" y="281.0" text-anchor="middle">65.53</text><text x="240.5" y="146.1" text-anchor="middle">126.1</text><text x="252.1" y="278.0" text-anchor="middle">66.9</text><text x="291.6" y="146.1" text-anchor="middle">126.1</text><text x="303.0" y="276.0" text-anchor="middle">67.81</text><text x="342.6" y="146.1" text-anchor="middle">126.1</text><text x="353.9" y="272.7" text-anchor="middle">69.28</text><text x="393.6" y="146.1" text-anchor="middle">126.1</text><text x="404.9" y="274.1" text-anchor="middle">68.65</text><text x="444.6" y="146.1" text-anchor="middle">126.1</text><text x="455.8" y="263.5" text-anchor="middle">73.4</text><text x="495.6" y="146.1" text-anchor="middle">126.1</text><text x="506.7" y="266.1" text-anchor="middle">72.27</text><text x="546.6" y="168.3" text-anchor="middle">116.14</text><text x="557.7" y="264.2" text-anchor="middle">73.08</text><text x="597.6" y="195.3" text-anchor="middle">103.97</text><text x="608.6" y="266.0" text-anchor="middle">72.29</text><text x="648.6" y="187.5" text-anchor="middle">107.51</text><text x="666.8" y="268.0" text-anchor="middle">71.84</text></g>
<g class="ax"><text transform="translate(93.4,444.5) rotate(-45)" x="0" y="0" text-anchor="end" dominant-baseline="hanging" style="font-size:12.6px">2024年1月</text><text transform="translate(144.3,444.5) rotate(-45)" x="0" y="0" text-anchor="end" dominant-baseline="hanging" style="font-size:12.6px">2024年2月</text><text transform="translate(195.2,444.5) rotate(-45)" x="0" y="0" text-anchor="end" dominant-baseline="hanging" style="font-size:12.6px">2024年3月</text><text transform="translate(246.1,444.5) rotate(-45)" x="0" y="0" text-anchor="end" dominant-baseline="hanging" style="font-size:12.6px">2024年4月</text><text transform="translate(297.1,444.5) rotate(-45)" x="0" y="0" text-anchor="end" dominant-baseline="hanging" style="font-size:12.6px">2024年5月</text><text transform="translate(348.0,444.5) rotate(-45)" x="0" y="0" text-anchor="end" dominant-baseline="hanging" style="font-size:12.6px">2024年6月</text><text transform="translate(398.9,444.5) rotate(-45)" x="0" y="0" text-anchor="end" dominant-baseline="hanging" style="font-size:12.6px">2024年7月</text><text transform="translate(449.8,444.5) rotate(-45)" x="0" y="0" text-anchor="end" dominant-baseline="hanging" style="font-size:12.6px">2024年8月</text><text transform="translate(500.8,444.5) rotate(-45)" x="0" y="0" text-anchor="end" dominant-baseline="hanging" style="font-size:12.6px">2024年9月</text><text transform="translate(551.7,444.5) rotate(-45)" x="0" y="0" text-anchor="end" dominant-baseline="hanging" style="font-size:12.6px">2024年10月</text><text transform="translate(602.6,444.5) rotate(-45)" x="0" y="0" text-anchor="end" dominant-baseline="hanging" style="font-size:12.6px">2024年11月</text><text transform="translate(653.5,444.5) rotate(-45)" x="0" y="0" text-anchor="end" dominant-baseline="hanging" style="font-size:12.6px">2024年12月</text></g>
<line x1="644.5" y1="469.6" x2="704" y2="469.6" stroke="#444" stroke-width="3"/>
<line x1="671" y1="479.4" x2="704" y2="479.4" stroke="#444" stroke-width="3"/>
</svg>
<div class="wm" style="left:534px;top:490.3px;font-size:16px;letter-spacing:0.6px;transform:scaleY(0.85)">搜狐号</div><div class="wm" style="left:584.5px;top:492px;font-size:13.5px;">@</div><div class="wm" style="left:600.5px;top:491.3px;font-size:14px;letter-spacing:0.6px;transform:scaleY(0.85)">搜狐焦点嘉峪关站</div>
</body></html>
